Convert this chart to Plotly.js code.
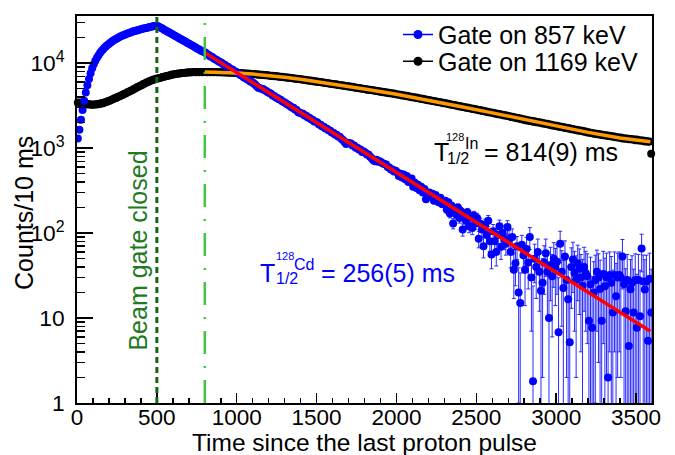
<!DOCTYPE html>
<html>
<head>
<meta charset="utf-8">
<script src="https://cdn.plot.ly/plotly-3.0.1.min.js"></script>
<style>html,body{margin:0;padding:0;background:#fff;}</style>
</head>
<body>
<div id="chart" style="width:675px;height:455px;"></div>
<script>
// Histogram binning (10 ms bins starting at 0 ms)
const binStart = 5;
const binWidth = 10;

// Gate on 857 keV (128Cd) counts per 10 ms bin
const blueCounts = [
 1300,1650,2150,2800,3600,4500,5500,6500,7600,8700,
 9700,10700,11600,12400,13300,14000,14700,15400,16000,16600,
 17200,17700,18300,18800,19300,19800,20300,20700,21100,21500,
 21900,22300,22700,23000,23400,23700,24000,24300,24600,24900,
 25200,25500,25800,26000,26300,26600,26800,27100,27300,27600,
 27400,26700,26100,25500,24800,24200,23600,23100,22500,22000,
 21400,20900,20400,19900,19400,19000,18500,18100,17600,17200,
 16800,16400,16000,15600,15200,14800,14500,14100,13800,13500,
 13300,12700,12500,12000,11900,11400,11100,10900,10500,10300,
 10100,9700,9550,9150,9050,8700,8450,8350,8000,7900,
 7600,7450,7200,7100,6800,6700,6450,6350,6100,6000,
 5800,5600,5350,5150,5050,5000,4950,4800,4700,4550,
 4450,4350,4150,4100,3950,3900,3750,3700,3550,3500,
 3400,3280,3220,3100,3000,2980,2850,2800,2650,2600,
 2550,2530,2420,2400,2300,2280,2180,2150,2060,2040,
 2000,1900,1880,1800,1780,1700,1690,1620,1600,1530,
 1520,1450,1440,1370,1360,1290,1250,1180,1120,1160,
 1140,1130,1070,1070,1010,1010,960,960,900,910,
 880,840,840,790,760,720,700,730,690,700,
 680,660,650,640,600,590,560,560,530,540,
 520,470,500,450,490,430,470,400,420,440,
 350,390,340,370,320,350,300,330,250,290,
 300,270,290,240,280,250,230,260,220,240,
 240,190,230,170,210,130,195,165,200,150,
 180,110,170,140,175,120,155,115,160,130,
 150,86,130,110,70,125,95,140,80,56,
 105,80,60,95,120,69,100,85,75,118,
 85,60,90,37,44,70,20,15,73,55,
 37,65,45,90,30,1.8,50,40,60,35,
 21,26,45,58,35,10,42,31,50,40,
 46,6.8,75,35,22.6,53,28,16.6,5.2,40,
 49,34,28,44,38,30,24,40,34,31,
 9.3,25,7.7,20,28,35,30,22,9.3,33,
 23.7,30,2.0,32,26,11.6,32,18,30,32,
 30,53,25,12,28,4.7,21.8,26,11.6,28,
 7.7,28,10.5,66,27,21.6,27,5.4,29,11.6
];

// Uncertainties of the 857 keV gated counts
const blueErrors = [
 36,41,46,53,60,67,74,81,88,93,
 99,104,108,112,115,118,121,124,126,129,
 131,133,135,137,139,141,142,144,145,147,
 148,149,151,152,153,154,155,156,157,158,
 159,160,161,161,162,163,164,165,165,166,
 166,163,162,160,157,156,154,152,150,148,
 146,145,143,141,139,138,136,135,133,131,
 130,128,126,125,123,122,120,119,117,116,
 115,113,112,110,109,107,105,104,103,101,
 100,98,98,96,95,93,92,91,89,89,
 87,86,85,84,82,82,80,80,78,77,
 76,75,73,72,71,71,70,69,69,67,
 67,66,64,64,63,62,61,61,60,59,
 58,57,57,56,55,55,53,53,52,51,
 51,50,49,49,48,48,47,46,45,45,
 45,44,43,42,42,41,41,40,40,39,
 39,38,38,37,37,36,35,34,34,34,
 34,34,33,33,32,32,31,31,30,30,
 30,29,29,28,28,27,27,27,26,27,
 26,26,26,25,25,24,24,24,23,23,
 23,22,23,22,22,21,22,20,21,21,
 20,21,20,20,19,20,19,20,18,19,
 19,18,19,18,19,18,18,19,18,18,
 20,19,20,19,20,18,20,19,20,19,
 20,18,20,19,20,19,20,19,20,19,
 21,19,20,20,19,21,20,21,19,18,
 21,20,19,21,22,20,21,21,20,22,
 22,21,22,20,20,21,19,19,21,21,
 23,24,23,26,23,22,24,23,25,23,
 24,24,26,27,25,22,26,25,27,26,
 27,23,30,27,25,28,26,24,23,27,
 29,27,26,28,27,26,25,28,27,26,
 24,27,23,26,27,28,27,26,24,28,
 27,28,24,28,27,25,28,26,28,28,
 28,31,27,26,28,24,27,28,26,29,
 25,28,26,31,28,27,28,25,29,26
];

// Gate on 1169 keV (128In) counts per 10 ms bin
const blackCounts = [
 3420,3440,3370,3380,3330,3320,3260,3300,3240,3260,
 3230,3280,3260,3320,3300,3390,3380,3470,3490,3590,
 3610,3720,3750,3860,3890,4010,4050,4170,4220,4350,
 4400,4540,4600,4740,4810,4960,5030,5190,5270,5430,
 5510,5670,5760,5920,6000,6160,6230,6370,6420,6540,
 6580,6700,6740,6860,6900,7020,7060,7180,7220,7330,
 7360,7460,7480,7570,7580,7660,7660,7730,7720,7790,
 7770,7830,7800,7850,7820,7870,7830,7880,7840,7870,
 7880,7820,7870,7800,7860,7810,7850,7790,7840,7800,
 7820,7770,7800,7740,7780,7710,7750,7690,7720,7660,
 7690,7620,7650,7570,7600,7520,7560,7480,7510,7430,
 7460,7380,7410,7320,7350,7260,7290,7200,7230,7150,
 7170,7080,7110,7010,7040,6950,6970,6880,6900,6810,
 6830,6740,6760,6670,6690,6590,6610,6520,6540,6450,
 6470,6370,6390,6290,6310,6220,6240,6140,6160,6060,
 6080,5990,6010,5910,5930,5830,5850,5760,5780,5680,
 5700,5610,5630,5530,5550,5460,5480,5390,5400,5320,
 5330,5240,5260,5170,5180,5100,5110,5020,5030,4950,
 4960,4880,4900,4820,4830,4750,4770,4690,4700,4620,
 4640,4560,4570,4490,4510,4430,4440,4370,4380,4300,
 4310,4240,4250,4170,4180,4110,4120,4050,4060,3980,
 3990,3920,3930,3860,3870,3790,3800,3740,3740,3670,
 3680,3610,3620,3550,3560,3490,3500,3440,3440,3380,
 3390,3320,3330,3260,3270,3210,3210,3150,3150,3090,
 3100,3040,3050,2990,3000,2940,2950,2890,2900,2840,
 2850,2790,2800,2740,2750,2700,2700,2650,2650,2600,
 2610,2550,2560,2510,2520,2470,2470,2420,2430,2380,
 2390,2330,2340,2290,2300,2250,2260,2200,2210,2160,
 2170,2120,2130,2090,2100,2050,2070,2020,2030,1990,
 2000,1950,1960,1920,1930,1880,1900,1850,1860,1820,
 1830,1790,1800,1760,1770,1730,1740,1700,1710,1670,
 1680,1640,1650,1610,1620,1590,1600,1560,1570,1530,
 1540,1510,1510,1480,1490,1460,1470,1440,1450,1420,
 1430,1400,1410,1380,1390,1360,1370,1340,1340,1320,
 1330,1300,1310,1290,1300,1270,1280,1260,1270,1240,
 1260,1230,1240,1220,1230,1200,1210,1190,1200,860
];

// Fit curves
const cdFitTime = [800, 3590];
const cdFitCounts = [13300, 7.0];
const inFitTime = [800, 900, 1000, 1100, 1200, 1300, 1400, 1600, 1800, 2000, 2200, 2400, 2600, 2800, 3000, 3200, 3400, 3590];
const inFitCounts = [7852, 7816, 7674, 7447, 7161, 6823, 6457, 5689, 4955, 4305, 3673, 3090, 2600, 2163, 1820, 1531, 1318, 1189];

// Marker times: beam gate closed, start of fit
const markerTimes = [500, 800];

const seriesNames = ['Gate on 857 keV', 'Gate on 1169 keV'];
const xTitle = 'Time since the last proton pulse';
const yTitle = 'Counts/10 ms';

const FONT = 'Liberation Sans, Arial, Helvetica, sans-serif';
const BLUE = '#0000ff';

const traces = [
  {type:'scatter', mode:'markers', x0:binStart, dx:binWidth, y:blackCounts,
   marker:{color:'#000000', size:8}, showlegend:false, cliponaxis:false, hoverinfo:'skip'},
  {type:'scatter', mode:'markers', x0:binStart, dx:binWidth, y:blueCounts,
   error_y:{type:'data', array:blueErrors, visible:true, color:'#2a2aff', thickness:1, width:2},
   marker:{color:BLUE, size:8}, showlegend:false, hoverinfo:'skip'},
  {type:'scatter', mode:'lines', x:inFitTime, y:inFitCounts,
   line:{color:'#ff9900', width:3.5}, showlegend:false, hoverinfo:'skip'},
  {type:'scatter', mode:'lines', x:cdFitTime, y:cdFitCounts,
   line:{color:'#ff0000', width:3.5}, showlegend:false, hoverinfo:'skip'},
  {type:'scatter', mode:'lines+markers', x:[null], y:[null], name:seriesNames[0],
   line:{color:BLUE, width:1.5}, marker:{color:BLUE, size:9}, legend:'legend'},
  {type:'scatter', mode:'lines+markers', x:[null], y:[null], name:seriesNames[1],
   line:{color:'#000000', width:1.5}, marker:{color:'#000000', size:9}, legend:'legend2'}
];

const lineStyles = [
  {color:'#136613', width:3, dash:'6px,4px'},
  {color:'#40c840', width:2.5, dash:'23px,12px,2px,12px'}
];

function px2xp(px){ return (px-77)/575; }
function py2yp(py){ return (403-py)/391; }
function ann(text, px, py, size, color, extra){
  return Object.assign({text:text, xref:'paper', yref:'paper', x:px2xp(px), y:py2yp(py),
    xanchor:'left', yanchor:'middle', showarrow:false,
    font:{family:FONT, size:size, color:color}}, extra||{});
}

const annotations = [
  ann('T', 432, 149.6, 25, '#000'),
  ann('128', 444, 134.5, 11, '#000'),
  ann('In', 463, 141.1, 16, '#000'),
  ann('1/2', 445, 156.4, 16, '#000'),
  ann('= 814(9) ms', 482, 149.6, 25, '#000'),
  ann('T', 258, 272, 25, BLUE),
  ann('128', 274, 254.5, 11, BLUE),
  ann('Cd', 292, 262.7, 16, BLUE),
  ann('1/2', 274, 277.6, 16, BLUE),
  ann('= 256(5) ms', 319, 272, 25, BLUE),
  {text:'Beam gate closed', xref:'paper', yref:'paper', x:px2xp(138), y:py2yp(249),
   xanchor:'center', yanchor:'middle', textangle:-90, showarrow:false,
   font:{family:FONT, size:25, color:'#1f7a1f'}},
  {text:yTitle, xref:'paper', yref:'paper', x:px2xp(24), y:py2yp(211),
   xanchor:'center', yanchor:'middle', textangle:-90, showarrow:false,
   font:{family:FONT, size:25, color:'#000'}},
  {text:xTitle, xref:'paper', yref:'paper', x:px2xp(364), y:py2yp(443),
   xanchor:'center', yanchor:'middle', showarrow:false,
   font:{family:FONT, size:24.5, color:'#000'}}
];

const axisCommon = {
  showline:true, linecolor:'#000', linewidth:1.8, mirror:true,
  showgrid:false, zeroline:false, ticks:'inside', tickcolor:'#000', tickwidth:1.5
};

const layout = {
  width:675, height:455,
  margin:{l:77, r:23, t:12, b:52, pad:0},
  paper_bgcolor:'#ffffff', plot_bgcolor:'#ffffff',
  font:{family:FONT, color:'#000', size:24},
  xaxis:Object.assign({}, axisCommon, {
    range:[0, 3600], tick0:0, dtick:500, ticklen:10,
    tickfont:{size:22.5}, ticklabelstandoff:-7,
    minor:{dtick:100, ticks:'inside', ticklen:5, tickwidth:1.5, tickcolor:'#000', showgrid:false}
  }),
  yaxis:Object.assign({}, axisCommon, {
    type:'log', range:[0, 4.555], dtick:1, exponentformat:'power', ticklen:16,
    tickfont:{size:18.2}, ticklabelstandoff:7,
    minor:{dtick:'D1', ticks:'inside', ticklen:8, tickwidth:1.5, tickcolor:'#000', showgrid:false}
  }),
  showlegend:true,
  legend:{x:px2xp(398), y:py2yp(31), xanchor:'left', yanchor:'middle',
    bgcolor:'rgba(0,0,0,0)', borderwidth:0, font:{size:25}},
  legend2:{x:px2xp(398), y:py2yp(58), xanchor:'left', yanchor:'middle',
    bgcolor:'rgba(0,0,0,0)', borderwidth:0, font:{size:25}},
  shapes: markerTimes.map((t, i) => ({type:'line', xref:'x', yref:'paper',
    x0:t, x1:t, y0:0, y1:1, layer:'above', line:lineStyles[i]})),
  annotations: annotations
};

Plotly.newPlot('chart', traces, layout, {displayModeBar:false, staticPlot:true});
</script>
</body>
</html>
